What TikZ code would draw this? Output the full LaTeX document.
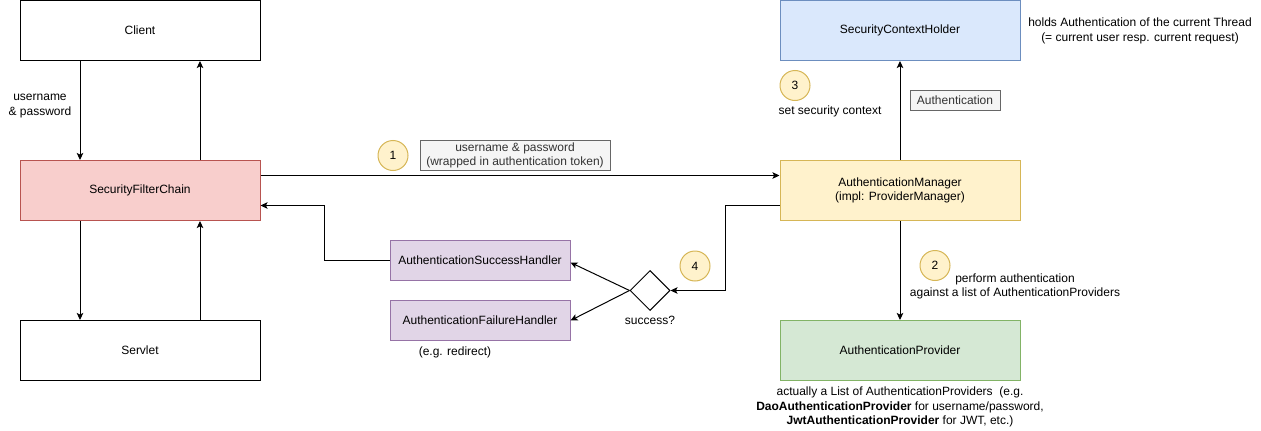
\documentclass[tikz,border=0pt]{standalone}
\usepackage{fontspec}
\setmainfont{Liberation Sans}
\usetikzlibrary{arrows.meta,shapes.geometric}

\definecolor{redfill}{HTML}{F8CECC}
\definecolor{redline}{HTML}{B85450}
\definecolor{bluefill}{HTML}{DAE8FC}
\definecolor{blueline}{HTML}{6C8EBF}
\definecolor{yelfill}{HTML}{FFF2CC}
\definecolor{yelline}{HTML}{D6B656}
\definecolor{greenfill}{HTML}{D5E8D4}
\definecolor{greenline}{HTML}{82B366}
\definecolor{purpfill}{HTML}{E1D5E7}
\definecolor{purpline}{HTML}{9673A6}
\definecolor{tagfill}{HTML}{F5F5F5}
\definecolor{tagline}{HTML}{666666}
\definecolor{tagtext}{HTML}{333333}

\begin{document}
\begin{tikzpicture}[x=1pt,y=-1pt,
  font=\fontsize{12}{14.5}\selectfont,
  line width=1pt,
  >={Stealth[length=7pt,width=6.5pt,inset=1.5pt]},
  bigbox/.style={draw, minimum width=240pt, minimum height=60pt, inner sep=0pt, align=center},
  handler/.style={draw=purpline, fill=purpfill, minimum width=180pt, minimum height=40pt, inner sep=0pt},
  numcirc/.style={circle, draw=yelline, fill=yelfill, minimum size=30pt, inner sep=0pt},
  tagbox/.style={draw=tagline, fill=tagfill, text=tagtext, inner sep=1pt, align=center},
  plaintext/.style={inner sep=0pt, align=center},
  decision/.style={diamond, draw, minimum width=40pt, minimum height=40pt, inner sep=0pt}
]
\useasboundingbox (0,0) rectangle (1261,431);

% left column
\node[bigbox] (client) at (140,30.5) {Client};
\node[bigbox, draw=redline, fill=redfill] (sfc) at (140,190.5) {SecurityFilterChain};
\node[bigbox] (servlet) at (140,350.5) {Servlet};

% right column
\node[bigbox, draw=blueline, fill=bluefill] (sch) at (900,30.5) {SecurityContextHolder};
\node[bigbox, draw=yelline, fill=yelfill] (am) at (900,190.5) {AuthenticationManager\\(impl: ProviderManager)};
\node[bigbox, draw=greenline, fill=greenfill] (ap) at (900,350.5) {AuthenticationProvider};

% handlers and decision
\node[handler] (ash) at (480,260.5) {AuthenticationSuccessHandler};
\node[handler] (afh) at (480,320.5) {AuthenticationFailureHandler};
\node[decision] (dec) at (650,290.5) {};

% step markers
\node[numcirc] (n1) at (393,155.5) {1};
\node[numcirc] (n2) at (935,265.5) {2};
\node[numcirc] (n3) at (795,85.5) {3};
\node[numcirc] (n4) at (695,266) {4};

% labels
\node[tagbox, minimum width=190pt, minimum height=30pt] (tok) at (515,155.5) {username \& password\\(wrapped in authentication token)};
\node[tagbox, minimum width=90pt, minimum height=20pt] (authtag) at (955,100.5) {Authentication};
\node[plaintext] (creds) at (40,106) {username\\\& password};
\node[plaintext] (setctx) at (830,111) {set security context};
\node[plaintext] (holds) at (1140,31) {holds Authentication of the current Thread\\(= current user resp. current request)};
\node[plaintext] (perform) at (1015,286.5) {perform authentication\\against a list of AuthenticationProviders};
\node[plaintext] (succ) at (650,320) {success?};
\node[plaintext] (redir) at (455,352) {(e.g. redirect)};
\node[plaintext] (aplist) at (900,407) {actually a List of AuthenticationProviders\ \ (e.g.\\\textbf{DaoAuthenticationProvider} for username/password,\\\textbf{JwtAuthenticationProvider} for JWT, etc.)};

% connectors
\draw[->] ([xshift=-60pt]client.south) -- ([xshift=-60pt]sfc.north);
\draw[->] ([xshift=60pt]sfc.north) -- ([xshift=60pt]client.south);
\draw[->] ([xshift=-60pt]sfc.south) -- ([xshift=-60pt]servlet.north);
\draw[->] ([xshift=60pt]servlet.north) -- ([xshift=60pt]sfc.south);
\draw[->] ([yshift=15pt]sfc.east) -- ([yshift=15pt]am.west);
\draw[->] (am.north) -- (sch.south);
\draw[->] (am.south) -- (ap.north);
\draw[->] ([yshift=-15pt]am.west) -| ([xshift=55pt]dec.east) -- (dec.east);
\draw[->] (dec.west) -- ([yshift=-2pt]ash.east);
\draw[->] (dec.west) -- (afh.east);
\draw[->] (ash.west) -- ++(-65pt,0) |- ([yshift=-15pt]sfc.east);
\end{tikzpicture}
\end{document}
